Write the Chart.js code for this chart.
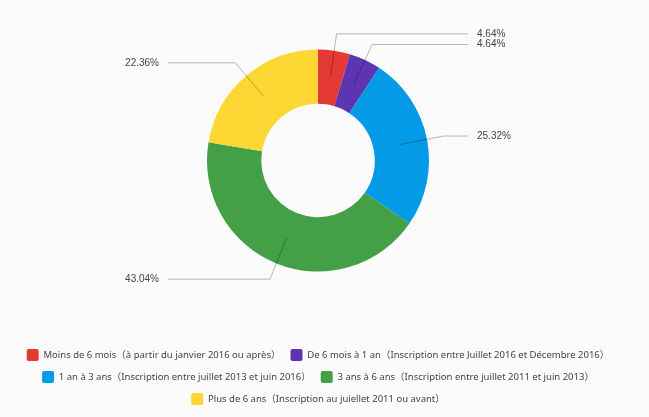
<!DOCTYPE html>
<html>
<head>
<meta charset="utf-8">
<script src="https://cdn.jsdelivr.net/npm/chart.js@4"></script>
<style>
  html, body { margin: 0; padding: 0; background: #fbfbfc; }
  #wrap { width: 649px; height: 417px; }
</style>
</head>
<body>
<div id="wrap"><canvas id="seniority-chart"></canvas></div>
<script>
const categories = [
  "Moins de 6 mois（à partir du janvier 2016 ou après）",
  "De 6 mois à 1 an（Inscription entre Juillet 2016 et Décembre 2016）",
  "1 an à 3 ans（Inscription entre juillet 2013 et juin 2016）",
  "3 ans à 6 ans（Inscription entre juillet 2011 et juin 2013）",
  "Plus de 6 ans（Inscription au juiellet 2011 ou avant）",
];
const shares = [4.64, 4.64, 25.32, 43.04, 22.36];

// leader lines + outside percentage labels
const outsideLabels = {
  id: "outsideLabels",
  afterDatasetsDraw(chart) {
    const ctx = chart.ctx;
    const meta = chart.getDatasetMeta(0);
    ctx.save();
    ctx.font = '10px "Liberation Sans", Arial, sans-serif';
    ctx.fillStyle = "#444";
    ctx.textBaseline = "middle";
    ctx.lineWidth = 1;
    ctx.strokeStyle = "rgba(0,0,0,0.28)";
    meta.data.forEach((arc, i) => {
      const { x, y, startAngle, endAngle, innerRadius, outerRadius } =
        arc.getProps(["x", "y", "startAngle", "endAngle", "innerRadius", "outerRadius"], true);
      const mid = (startAngle + endAngle) / 2;
      const r0 = (innerRadius + outerRadius) / 2;
      const r1 = outerRadius + 17;
      const right = Math.cos(mid) >= 0;
      const ex = x + Math.cos(mid) * r1;
      const ey = y + Math.sin(mid) * r1;
      const lx = right ? x + 150 : x - 150;
      ctx.beginPath();
      ctx.moveTo(x + Math.cos(mid) * r0, y + Math.sin(mid) * r0);
      ctx.lineTo(ex, ey);
      ctx.lineTo(lx, ey);
      ctx.stroke();
      ctx.textAlign = right ? "left" : "right";
      ctx.fillText(shares[i].toFixed(2) + "%", right ? lx + 9 : lx - 9, ey);
    });
    ctx.restore();
  },
};

new Chart(document.getElementById("seniority-chart"), {
  type: "doughnut",
  data: {
    labels: categories,
    datasets: [
      {
        data: shares,
        backgroundColor: ["#e53935", "#5e35b1", "#039be5", "#43a047", "#fdd835"],
        borderWidth: 0,
      },
    ],
  },
  options: {
    responsive: true,
    maintainAspectRatio: false,
    animation: false,
    radius: 111,
    cutout: 57,
    layout: { padding: { top: 49, left: 0, right: 13, bottom: 2 } },
    plugins: {
      tooltip: {
        callbacks: { label: (item) => ` ${item.parsed}%` },
      },
      legend: {
        position: "bottom",
        title: { display: true, text: "", font: { size: 10, lineHeight: 1 }, padding: { top: 57, bottom: 0 } },
        labels: {
          boxWidth: 12,
          boxHeight: 12,
          padding: 10,
          useBorderRadius: true,
          borderRadius: 2,
          color: "#444",
          font: { family: '"Noto Sans", "Noto Sans CJK SC", sans-serif', size: 9.5 },
        },
      },
    },
  },
  plugins: [outsideLabels],
});
</script>
</body>
</html>
